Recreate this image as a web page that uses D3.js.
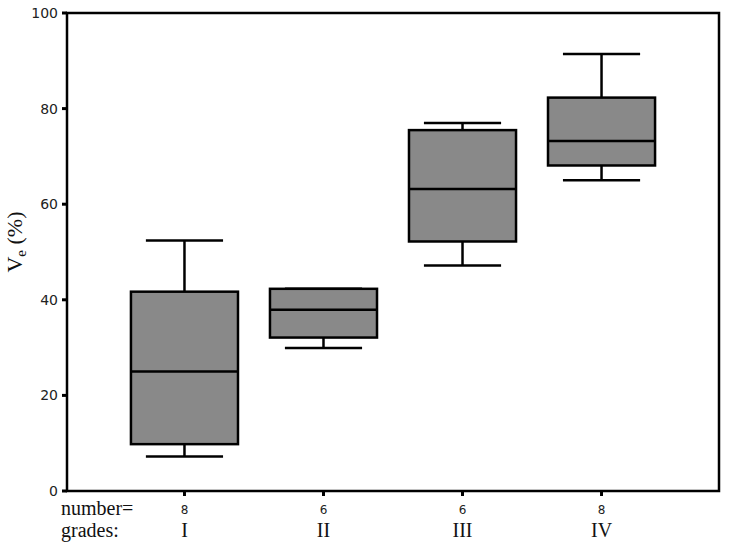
<!DOCTYPE html>
<html lang="en">
<head>
<meta charset="utf-8">
<script src="https://d3js.org/d3.v7.min.js"></script>
<style type="text/css">
body {
	margin: 0;
	background: #fff;
}
.tick-label {
	font: 14px "DejaVu Sans", Verdana, sans-serif;
	fill: #222;
}
.serif {
	font-family: "Liberation Serif", "Times New Roman", serif;
	fill: #111;
}
</style>
</head>
<body>
<script type="text/javascript">

// grades and their box statistics
var grades = ["I", "II", "III", "IV"];
var counts = [8, 6, 6, 8];
var whiskerLow = [7.2, 29.9, 47.2, 65.0];
var q1 = [9.8, 32.1, 52.2, 68.1];
var medians = [25.0, 37.9, 63.2, 73.2];
var q3 = [41.7, 42.3, 75.5, 82.3];
var whiskerHigh = [52.4, 42.3, 77.0, 91.4];
var yTicks = [0, 20, 40, 60, 80, 100];

var width = 729;
var height = 549;
var margin = {left: 67, right: 10, top: 13, bottom: 58};

var svg = d3.select("body")
	.append("svg")
	.attr("width", width)
	.attr("height", height);

var x = d3.scalePoint()
	.domain(grades)
	.range([margin.left, width - margin.right])
	.padding(0.845);

var y = d3.scaleLinear()
	.domain([0, 100])
	.range([height - margin.bottom, margin.top]);

var boxW = x.step() * 0.77;
var capW = x.step() * 0.555;

var data = grades.map(function(g, i) {
	return {grade: g, n: counts[i], lo: whiskerLow[i], q1: q1[i], med: medians[i], q3: q3[i], hi: whiskerHigh[i]};
});

// frame
svg.append("rect")
	.attr("x", margin.left)
	.attr("y", margin.top)
	.attr("width", width - margin.right - margin.left)
	.attr("height", height - margin.bottom - margin.top)
	.style("fill", "none")
	.style("stroke", "#000")
	.style("stroke-width", 2.5);

// y axis ticks + labels
var yAxis = svg.append("g");
yAxis.selectAll("line")
	.data(yTicks)
	.enter()
	.append("line")
	.attr("x1", margin.left - 5)
	.attr("x2", margin.left)
	.attr("y1", function(d) { return y(d); })
	.attr("y2", function(d) { return y(d); })
	.style("stroke", "#000")
	.style("stroke-width", 3);

yAxis.selectAll("text")
	.data(yTicks)
	.enter()
	.append("text")
	.attr("class", "tick-label")
	.attr("x", margin.left - 9)
	.attr("y", function(d) { return y(d); })
	.attr("dy", "0.35em")
	.attr("text-anchor", "end")
	.text(function(d) { return d; });

// y title
svg.append("text")
	.attr("class", "serif")
	.attr("transform", "translate(22,242) rotate(-90)")
	.attr("text-anchor", "middle")
	.style("font-size", "22px")
	.html('V<tspan dy="4" font-size="15px">e</tspan><tspan dy="-4"> (%)</tspan>');

// x ticks
svg.selectAll(".xtick")
	.data(grades)
	.enter()
	.append("line")
	.attr("class", "xtick")
	.attr("x1", function(d) { return x(d); })
	.attr("x2", function(d) { return x(d); })
	.attr("y1", y(0))
	.attr("y2", y(0) + 5)
	.style("stroke", "#000")
	.style("stroke-width", 3);

// boxes
var box = svg.selectAll(".box")
	.data(data)
	.enter()
	.append("g")
	.attr("class", "box")
	.style("stroke", "#000")
	.style("stroke-width", 2.5);

box.append("line")
	.attr("x1", function(d) { return x(d.grade); })
	.attr("x2", function(d) { return x(d.grade); })
	.attr("y1", function(d) { return y(d.hi); })
	.attr("y2", function(d) { return y(d.lo); });

box.append("line")
	.attr("x1", function(d) { return x(d.grade) - capW / 2; })
	.attr("x2", function(d) { return x(d.grade) + capW / 2; })
	.attr("y1", function(d) { return y(d.hi); })
	.attr("y2", function(d) { return y(d.hi); });

box.append("line")
	.attr("x1", function(d) { return x(d.grade) - capW / 2; })
	.attr("x2", function(d) { return x(d.grade) + capW / 2; })
	.attr("y1", function(d) { return y(d.lo); })
	.attr("y2", function(d) { return y(d.lo); });

box.append("rect")
	.attr("x", function(d) { return x(d.grade) - boxW / 2; })
	.attr("width", boxW)
	.attr("y", function(d) { return y(d.q3); })
	.attr("height", function(d) { return y(d.q1) - y(d.q3); })
	.style("fill", "#898989");

box.append("line")
	.attr("x1", function(d) { return x(d.grade) - boxW / 2; })
	.attr("x2", function(d) { return x(d.grade) + boxW / 2; })
	.attr("y1", function(d) { return y(d.med); })
	.attr("y2", function(d) { return y(d.med); });

// bottom rows: counts and grade names
svg.append("text")
	.attr("class", "serif")
	.attr("x", 61)
	.attr("y", 515)
	.style("font-size", "20px")
	.text("number=");

svg.append("text")
	.attr("class", "serif")
	.attr("x", 61)
	.attr("y", 537)
	.style("font-size", "20px")
	.text("grades:");

svg.selectAll(".count")
	.data(data)
	.enter()
	.append("text")
	.attr("class", "count tick-label")
	.attr("x", function(d) { return x(d.grade); })
	.attr("y", 514)
	.attr("text-anchor", "middle")
	.style("font-size", "12px")
	.text(function(d) { return d.n; });

svg.selectAll(".grade")
	.data(data)
	.enter()
	.append("text")
	.attr("class", "grade serif")
	.attr("x", function(d) { return x(d.grade); })
	.attr("y", 537)
	.attr("text-anchor", "middle")
	.style("font-size", "20px")
	.text(function(d) { return d.grade; });

</script>
</body>
</html>
